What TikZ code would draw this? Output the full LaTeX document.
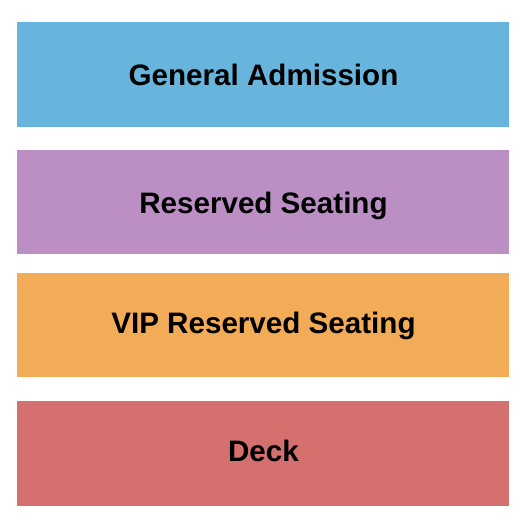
\documentclass[tikz,border=0pt]{standalone}
\usepackage{fontspec}
\setmainfont{Liberation Sans}
\definecolor{gablue}{HTML}{67B5DD}
\definecolor{respurple}{HTML}{BB8FC4}
\definecolor{viporange}{HTML}{F2AC58}
\definecolor{deckred}{HTML}{D4706E}
\begin{document}
\begin{tikzpicture}[x=1pt,y=-1pt,
  section/.style={draw=none,inner sep=0pt,minimum width=492pt,minimum height=105pt},
  label/.style={inner sep=0pt,anchor=base,font=\fontsize{29.6}{34}\selectfont\bfseries,text=black}]
\useasboundingbox[fill=white] (0,0) rectangle (525,525);
\node[section,fill=gablue] (ga) at (263,74.5) {};
\node[section,fill=respurple,minimum height=104pt] (rs) at (263,202) {};
\node[section,fill=viporange,minimum height=104pt] (vip) at (263,325) {};
\node[section,fill=deckred] (deck) at (263,453.5) {};
\node[label] (galabel) at (263.5,85.2) {General Admission};
\node[label] (rslabel) at (263.5,213.3) {Reserved Seating};
\node[label] (viplabel) at (263.5,333.3) {VIP Reserved Seating};
\node[label] (decklabel) at (263.5,461.3) {Deck};
\end{tikzpicture}
\end{document}
